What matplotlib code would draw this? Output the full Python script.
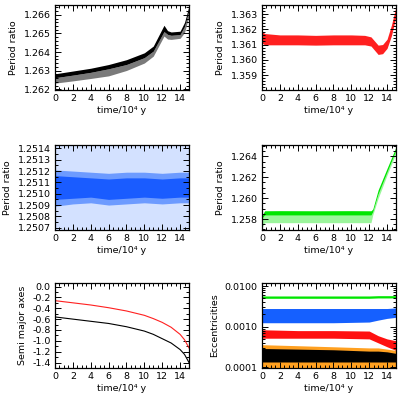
import numpy as np
import matplotlib
matplotlib.use('Agg')
import matplotlib.pyplot as plt
from matplotlib.ticker import AutoMinorLocator, FixedLocator, FormatStrFormatter, LogLocator, NullFormatter

plt.rcParams['font.family'] = ['DejaVu Sans']
plt.rcParams['font.size'] = 6.8

# ---- values (band edges of the point clouds) ----
# top left: black period ratio
t_bk = [0, 2, 4, 6, 8, 10, 11, 12.2, 12.6, 13, 14, 14.5, 15]
bk_hi = [1.26283, 1.26298, 1.26313, 1.26333, 1.26359, 1.26396, 1.26432, 1.26544, 1.26515, 1.26508, 1.26512, 1.26560, 1.26649]
bk_mid = [1.26262, 1.26276, 1.26291, 1.26310, 1.26333, 1.26370, 1.26405, 1.26510, 1.26495, 1.26490, 1.26494, 1.26538, 1.26625]
bk_lo = [1.26233, 1.26245, 1.26258, 1.26272, 1.26301, 1.26341, 1.26378, 1.26486, 1.26470, 1.26468, 1.26474, 1.26505, 1.26595]

# top right: red period ratio
t_rd = [0, 0.3, 2, 4, 6, 8, 10, 11.5, 12.2, 13, 13.5, 14, 14.5, 15]
rd_hi = [1.36188, 1.36172, 1.36163, 1.36163, 1.36160, 1.36163, 1.36163, 1.36160, 1.36150, 1.36096, 1.36100, 1.36135, 1.36230, 1.36350]
rd_lo = [1.36110, 1.36098, 1.36098, 1.36098, 1.36096, 1.36098, 1.36098, 1.36098, 1.36090, 1.36035, 1.36040, 1.36075, 1.36160, 1.36285]

# middle left: blue period ratio
t_bl = [0, 2, 4, 6, 8, 10, 12, 14, 15]
bl_hi = [1.25121, 1.25120, 1.25119, 1.25118, 1.25119, 1.25119, 1.25118, 1.25119, 1.25119]
bl_lo = [1.25089, 1.25091, 1.25092, 1.25090, 1.25091, 1.25092, 1.25091, 1.25092, 1.25092]
bl_chi = [1.25116, 1.25115, 1.25114, 1.25113, 1.25114, 1.25114, 1.25113, 1.25114, 1.25114]
bl_clo = [1.25095, 1.25096, 1.25097, 1.25095, 1.25096, 1.25097, 1.25096, 1.25097, 1.25097]

# middle right: green period ratio
t_gr = [0, 0.3, 2, 6, 10, 12.2, 12.4, 13, 14, 15]
gr_hi = [1.25835, 1.25879, 1.25880, 1.25879, 1.25880, 1.25879, 1.25895, 1.26078, 1.26285, 1.26490]
gr_mid = [1.25810, 1.25838, 1.25838, 1.25838, 1.25838, 1.25838, 1.25870, 1.26040, 1.26250, 1.26460]
gr_lo = [1.25720, 1.25765, 1.25765, 1.25765, 1.25765, 1.25765, 1.25840, 1.25998, 1.26221, 1.26429]

# bottom left: semi major axes
t_a = [0, 2, 4, 6, 8, 10, 11, 12, 13, 14, 14.5, 15]
a_red = [-0.26, -0.30, -0.34, -0.39, -0.45, -0.53, -0.59, -0.66, -0.75, -0.88, -0.98, -1.13]
a_blk = [-0.56, -0.60, -0.64, -0.68, -0.74, -0.82, -0.88, -0.96, -1.04, -1.16, -1.25, -1.40]

# bottom right: eccentricities
t_e = [0, 4, 8, 12, 13, 14, 15]
e_gr_hi = [0.0057, 0.0057, 0.0057, 0.0057, 0.0058, 0.0058, 0.0058]
e_gr_lo = [0.0050, 0.0050, 0.0050, 0.0050, 0.0051, 0.0051, 0.0051]
e_bl_hi = [0.0028, 0.0028, 0.0028, 0.0028, 0.0028, 0.0028, 0.0029]
e_bl_lo = [0.00125, 0.00125, 0.00125, 0.00130, 0.00145, 0.00160, 0.00170]
e_rd_hi = [0.00084, 0.00080, 0.00080, 0.00078, 0.00060, 0.00050, 0.00045]
e_rd_lo = [0.00052, 0.00052, 0.00052, 0.00050, 0.00040, 0.00032, 0.00026]
e_or_hi = [0.00036, 0.00034, 0.00032, 0.00030, 0.00030, 0.00028, 0.00026]
e_or_lo = [0.000097, 0.000097, 0.000097, 0.000097, 0.000097, 0.000097, 0.000097]
e_bk_hi = [0.00029, 0.00028, 0.00027, 0.00025, 0.00025, 0.00024, 0.00022]
e_bk_lo = [0.000135, 0.000135, 0.000135, 0.000135, 0.000135, 0.000135, 0.000135]

xticks = [0, 2, 4, 6, 8, 10, 12, 14]
xlabel = 'time/10⁴ y'

fig = plt.figure(figsize=(4.02, 3.99), dpi=100)

cols = [55 / 402, 262 / 402]
w = 134 / 402
rows = [1 - 90 / 399, 1 - 230 / 399, 1 - 368 / 399]
h = 85 / 399


def style(ax, ylabel, yminor=5):
    ax.set_xlim(0, 15)
    ax.set_xticks(xticks)
    ax.xaxis.set_minor_locator(AutoMinorLocator(4))
    if yminor:
        ax.yaxis.set_minor_locator(AutoMinorLocator(yminor))
    ax.tick_params(which='both', direction='in', top=True, right=True, width=0.7, pad=3)
    ax.tick_params(which='major', length=4)
    ax.tick_params(which='minor', length=2)
    for s in ax.spines.values():
        s.set_linewidth(0.9)
    ax.set_xlabel(xlabel, labelpad=2)
    ax.set_ylabel(ylabel, labelpad=4)


# top left
ax1 = fig.add_axes([cols[0], rows[0], w, h])
ax1.fill_between(t_bk, bk_lo, bk_mid, color='#7a7a7a', lw=0)
ax1.fill_between(t_bk, bk_mid, bk_hi, color='black', lw=0)
ax1.set_ylim(1.26196, 1.26653)
ax1.set_yticks([1.262, 1.263, 1.264, 1.265, 1.266])
ax1.yaxis.set_major_formatter(FormatStrFormatter('%.3f'))
style(ax1, 'Period ratio')

# top right
ax2 = fig.add_axes([cols[1], rows[0], w, h])
ax2.fill_between(t_rd, rd_lo, rd_hi, color='#ff2020', lw=0)
ax2.set_ylim(1.35802, 1.36359)
ax2.set_yticks([1.359, 1.360, 1.361, 1.362, 1.363])
ax2.yaxis.set_major_formatter(FormatStrFormatter('%.3f'))
style(ax2, 'Period ratio')

# middle left
ax3 = fig.add_axes([cols[0], rows[1], w, h])
ax3.axhspan(1.25068, 1.25143, color='#d3e1ff', lw=0)
ax3.fill_between(t_bl, bl_lo, bl_hi, color='#6d9bff', lw=0)
ax3.fill_between(t_bl, bl_clo, bl_chi, color='#1a5cff', lw=0)
ax3.set_ylim(1.25068, 1.25143)
ax3.set_yticks([1.2507, 1.2508, 1.2509, 1.2510, 1.2511, 1.2512, 1.2513, 1.2514])
ax3.yaxis.set_major_formatter(FormatStrFormatter('%.4f'))
style(ax3, 'Period ratio', yminor=2)

# middle right
ax4 = fig.add_axes([cols[1], rows[1], w, h])
ax4.fill_between(t_gr, gr_lo, gr_mid, color='#9cf59c', lw=0)
ax4.fill_between(t_gr, gr_mid, gr_hi, color='#00e600', lw=0)
ax4.set_ylim(1.25695, 1.26508)
ax4.set_yticks([1.258, 1.260, 1.262, 1.264])
ax4.yaxis.set_major_formatter(FormatStrFormatter('%.3f'))
style(ax4, 'Period ratio', yminor=4)

# bottom left
ax5 = fig.add_axes([cols[0], rows[2], w, h])
ax5.plot(t_a, a_red, color='#ff2020', lw=0.8)
ax5.plot(t_a, a_blk, color='black', lw=0.8)
ax5.set_ylim(-1.5, 0.065)
ax5.set_yticks([-1.4, -1.2, -1.0, -0.8, -0.6, -0.4, -0.2, 0.0])
ax5.yaxis.set_major_formatter(FormatStrFormatter('%.1f'))
style(ax5, 'Semi major axes', yminor=2)

# bottom right
ax6 = fig.add_axes([cols[1], rows[2], w, h])
ax6.set_yscale('log')
ax6.fill_between(t_e, e_or_lo, e_or_hi, color='#ffa020', lw=0)
ax6.fill_between(t_e, e_bk_lo, e_bk_hi, color='black', lw=0)
ax6.fill_between(t_e, e_rd_lo, e_rd_hi, color='#ff1010', lw=0)
ax6.fill_between(t_e, e_bl_lo, e_bl_hi, color='#1560ff', lw=0)
ax6.fill_between(t_e, e_gr_lo, e_gr_hi, color='#00e600', lw=0)
ax6.set_ylim(0.000096, 0.0119)
ax6.yaxis.set_major_locator(FixedLocator([0.0001, 0.001, 0.01]))
ax6.yaxis.set_major_formatter(FormatStrFormatter('%.4f'))
ax6.yaxis.set_minor_locator(LogLocator(base=10, subs=np.arange(2, 10)))
ax6.yaxis.set_minor_formatter(NullFormatter())
style(ax6, 'Eccentricities', yminor=0)

fig.savefig('out.png', dpi=100)
